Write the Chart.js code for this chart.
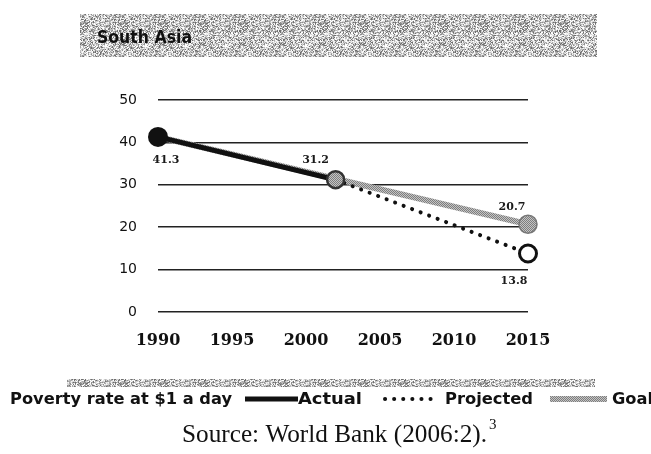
<!DOCTYPE html>
<html>
<head>
<meta charset="utf-8">
<script src="https://cdn.jsdelivr.net/npm/chart.js@4/dist/chart.umd.min.js"></script>
<style>
  html, body { margin: 0; background: #fff; }
  canvas { display: block; }
</style>
</head>
<body>
<canvas id="chart" width="651" height="454"></canvas>
<script>
// Poverty rate at $1 a day, South Asia (percent)
const yearTicks = [1990, 1995, 2000, 2005, 2010, 2015]
const rateTicks = [0, 10, 20, 30, 40, 50]

const actualYears = [1990, 2002]
const actualRate = [41.3, 31.2]

const projectedYears = [2002, 2015]
const projectedRate = [31.2, 13.8]

const goalYears = [1990, 2015]
const goalRate = [41.3, 20.7]

const canvas = document.getElementById('chart')
const ctx = canvas.getContext('2d')

// small repeating textures for the grey screened areas
function dither(light, dark) {
  const p = document.createElement('canvas')
  p.width = p.height = 2
  const g = p.getContext('2d')
  g.fillStyle = light
  g.fillRect(0, 0, 2, 2)
  g.fillStyle = dark
  g.fillRect(0, 0, 1, 1)
  g.fillRect(1, 1, 1, 1)
  return ctx.createPattern(p, 'repeat')
}

// coarse screen: a fixed hash of the pixel position picks the grey level
function grain() {
  const levels = ['#ffffff', '#e4e4e4', '#bdbdbd', '#8f8f8f', '#cfcfcf', '#f4f4f4', '#6e6e6e', '#a8a8a8']
  const n = 40
  const p = document.createElement('canvas')
  p.width = p.height = n
  const g = p.getContext('2d')
  for (let y = 0; y < n; y++) {
    for (let x = 0; x < n; x++) {
      let h = (x * 374761393 + y * 668265263) | 0
      h = Math.imul(h ^ (h >>> 13), 1274126177)
      h = (h ^ (h >>> 16)) >>> 0
      g.fillStyle = levels[h % levels.length]
      g.fillRect(x, y, 1, 1)
    }
  }
  return ctx.createPattern(p, 'repeat')
}

const goalGrey = dither('#c4c4c4', '#7e7e7e')
const bandGrey = grain()

const toPoints = (xs, ys) => xs.map((x, i) => ({ x: x, y: ys[i] }))

// which points carry a value label, and where the label sits
const valueLabels = [
  { ds: 0, i: 0, dx: 8, dy: 23 },
  { ds: 0, i: 1, dx: -20, dy: -20 },
  { ds: 2, i: 1, dx: -16, dy: -17 },
  { ds: 1, i: 1, dx: -14, dy: 28 }
]

function fitText(c, text, x, baseline, width) {
  const w = c.measureText(text).width
  c.save()
  c.translate(x, baseline)
  c.scale(width / w, 1)
  c.fillText(text, 0, 0)
  c.restore()
}

const decorations = {
  id: 'decorations',
  beforeDraw(chart) {
    const c = chart.ctx
    c.save()
    c.fillStyle = '#fff'
    c.fillRect(0, 0, chart.width, chart.height)

    // title band
    c.fillStyle = bandGrey
    c.fillRect(80, 14, 517, 43)
    c.fillStyle = '#111'
    c.font = 'bold 17px "DejaVu Sans"'
    c.textBaseline = 'alphabetic'
    fitText(c, 'South Asia', 97, 43, 95)

    // band above the key
    c.fillStyle = bandGrey
    c.fillRect(67, 379, 528, 8)
    c.restore()
  },
  afterDatasetsDraw(chart) {
    const c = chart.ctx
    c.save()
    c.fillStyle = '#1a1a1a'
    c.font = 'bold 11px "DejaVu Serif"'
    c.textAlign = 'center'
    c.textBaseline = 'middle'
    valueLabels.forEach(l => {
      const pt = chart.getDatasetMeta(l.ds).data[l.i]
      const v = chart.data.datasets[l.ds].data[l.i].y
      c.fillText(v.toFixed(1), pt.x + l.dx, pt.y + l.dy)
    })
    c.restore()
  },
  afterDraw(chart) {
    const c = chart.ctx
    c.save()

    // key
    c.fillStyle = '#111'
    c.font = 'bold 16px "DejaVu Sans"'
    c.textBaseline = 'alphabetic'
    fitText(c, 'Poverty rate at $1 a day', 10, 404, 222)
    fitText(c, 'Actual', 298, 404, 64)
    fitText(c, 'Projected', 445, 404, 88)
    fitText(c, 'Goal', 612, 404, 41)

    c.lineWidth = 5
    c.strokeStyle = '#111'
    c.beginPath()
    c.moveTo(245, 399)
    c.lineTo(298, 399)
    c.stroke()

    c.lineWidth = 4
    c.lineCap = 'round'
    c.setLineDash([0.1, 9])
    c.beginPath()
    c.moveTo(385, 399)
    c.lineTo(436, 399)
    c.stroke()
    c.setLineDash([])
    c.lineCap = 'butt'

    c.lineWidth = 6
    c.strokeStyle = goalGrey
    c.beginPath()
    c.moveTo(550, 399)
    c.lineTo(607, 399)
    c.stroke()

    // source line
    c.fillStyle = '#111'
    c.font = '25px "Liberation Serif"'
    const src = 'Source: World Bank (2006:2).'
    fitText(c, src, 182, 442, 305)
    c.font = '15px "Liberation Serif"'
    c.fillText('3', 489, 429)
    c.restore()
  }
}

new Chart(ctx, {
  type: 'line',
  data: {
    datasets: [
      {
        label: 'Actual',
        data: toPoints(actualYears, actualRate),
        borderColor: '#111',
        borderWidth: 5,
        pointRadius: [10, 8.5],
        pointBackgroundColor: ['#111', goalGrey],
        pointBorderColor: ['#111', '#333'],
        pointBorderWidth: [0, 2.5],
        clip: false,
        order: 1
      },
      {
        label: 'Projected',
        data: toPoints(projectedYears, projectedRate),
        borderColor: '#111',
        borderWidth: 4,
        borderDash: [0.1, 9],
        borderCapStyle: 'round',
        pointRadius: [0, 8.5],
        pointBackgroundColor: '#fff',
        pointBorderColor: '#111',
        pointBorderWidth: 3,
        clip: false,
        order: 2
      },
      {
        label: 'Goal',
        data: toPoints(goalYears, goalRate),
        borderColor: goalGrey,
        borderWidth: 6,
        pointRadius: [0, 9],
        pointBackgroundColor: goalGrey,
        pointBorderColor: '#777',
        pointBorderWidth: 1.5,
        clip: false,
        order: 3
      }
    ]
  },
  options: {
    responsive: false,
    animation: false,
    layout: { padding: { left: 88, right: 123, top: 100, bottom: 100 } },
    plugins: {
      legend: { display: false },
      tooltip: { enabled: false }
    },
    scales: {
      x: {
        type: 'linear',
        min: 1990,
        max: 2015,
        afterBuildTicks: s => { s.ticks = yearTicks.map(v => ({ value: v })) },
        afterFit: s => { s.height = 42 },
        grid: { display: false },
        border: { display: false },
        ticks: {
          padding: 11,
          color: '#111',
          font: { family: 'DejaVu Serif', weight: 'bold', size: 16 },
          callback: v => String(v)
        }
      },
      y: {
        min: 0,
        max: 50,
        afterBuildTicks: s => { s.ticks = rateTicks.map(v => ({ value: v })) },
        afterFit: s => { s.width = 70 },
        grid: { color: '#222', lineWidth: 1.5, drawTicks: false },
        border: { display: false },
        ticks: {
          padding: 21,
          color: '#111',
          font: { family: 'DejaVu Sans', size: 14 }
        }
      }
    }
  },
  plugins: [decorations]
})
</script>
</body>
</html>
